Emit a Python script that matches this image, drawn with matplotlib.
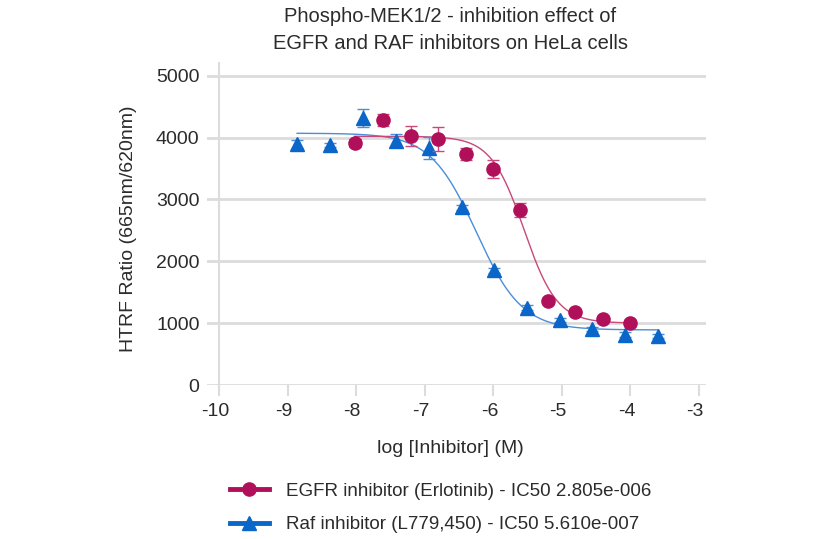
import numpy as np
import matplotlib
matplotlib.use("Agg")
import matplotlib.pyplot as plt
import matplotlib.transforms as mtransforms
from matplotlib.lines import Line2D

plt.rcParams['font.family'] = ['Liberation Sans', 'DejaVu Sans']
plt.rcParams['axes.unicode_minus'] = False

# EGFR inhibitor (Erlotinib)
egfr_logc = [-8.02, -7.61, -7.20, -6.81, -6.40, -6.00, -5.61, -5.20, -4.81, -4.40, -4.01]
egfr_resp = [3915, 4285, 4025, 3975, 3730, 3492, 2829, 1362, 1184, 1070, 1000]
egfr_err = [60, 97, 167, 190, 100, 150, 110, 40, 40, 40, 40]

# Raf inhibitor (L779,450)
raf_logc = [-8.86, -8.38, -7.90, -7.42, -6.94, -6.46, -5.99, -5.51, -5.03, -4.56, -4.08, -3.60]
raf_resp = [3896, 3880, 4316, 3950, 3831, 2870, 1852, 1252, 1051, 905, 810, 792]
raf_err = [60, 40, 140, 100, 175, 40, 40, 40, 40, 40, 40, 40]

# fitted 4PL parameters (top, bottom, logIC50, hill)
egfr_fit = (4020, 1000, np.log10(2.805e-6), 1.8)
raf_fit = (4070, 890, np.log10(5.610e-7), 1.3)

egfr_label = "EGFR inhibitor (Erlotinib) - IC50 2.805e-006"
raf_label = "Raf inhibitor (L779,450) - IC50 5.610e-007"

red = '#B0105A'
blue = '#0A66C8'
red_line = '#C8487A'
blue_line = '#4A8ED6'
txt = '#2b2b2b'


def four_pl(x, top, bottom, logic50, hill):
    return bottom + (top - bottom) / (1 + 10 ** ((x - logic50) * hill))


fig = plt.figure(figsize=(8.2, 5.39), dpi=100)
ax = fig.add_axes([0.2524, 0.2857, 0.6085, 0.5974])

ax.set_xlim(-10.175, -2.9)
ax.set_ylim(0, 5205)

# fitted curves
xs = np.linspace(raf_logc[0], raf_logc[-1], 300)
ax.plot(xs, four_pl(xs, *raf_fit), color=blue_line, lw=1, zorder=2)
xs = np.linspace(egfr_logc[0], egfr_logc[-1], 300)
ax.plot(xs, four_pl(xs, *egfr_fit), color=red_line, lw=1, zorder=2)

ax.errorbar(raf_logc, raf_resp, yerr=raf_err, fmt='^', color=blue, ms=10,
            ecolor=blue_line, elinewidth=1, capsize=4.5, capthick=1, zorder=3)
ax.errorbar(egfr_logc, egfr_resp, yerr=egfr_err, fmt='o', color=red, ms=9.5,
            ecolor=red_line, elinewidth=1, capsize=4.5, capthick=1, zorder=4)

ax.set_yticks([0, 1000, 2000, 3000, 4000, 5000])
ax.set_xticks(range(-10, -2))
ax.yaxis.grid(True, color='#dcdcdc', lw=2)
ax.set_axisbelow(True)
for s in ['top', 'right', 'bottom']:
    ax.spines[s].set_visible(False)
ax.spines['left'].set_position(('data', -10))
ax.spines['left'].set_color('#dcdcdc')
ax.spines['left'].set_linewidth(1.5)
ax.tick_params(axis='y', length=0, pad=14, labelsize=14, labelcolor=txt)
ax.tick_params(axis='x', length=8, width=1.5, color='#dcdcdc', pad=5,
               labelsize=14, labelcolor=txt)

# x tick labels sit a little left of their ticks in the original
shift = mtransforms.ScaledTranslation(-4 / 100, 0, fig.dpi_scale_trans)
for lab in ax.get_xticklabels():
    lab.set_transform(lab.get_transform() + shift)

ax.set_xlabel("log [Inhibitor] (M)", fontsize=14, color=txt)
ax.xaxis.set_label_coords(0.487, -0.17)
ax.set_ylabel("HTRF Ratio (665nm/620nm)", fontsize=14, color=txt)
ax.yaxis.set_label_coords(-0.14, 0.485)

fig.text(0.549, 0.987, "Phospho-MEK1/2 - inhibition effect of\nEGFR and RAF inhibitors on HeLa cells",
         ha='center', va='top', fontsize=14.5, color=txt, linespacing=1.5)

handles = [Line2D([], [], color=red, lw=3.5, marker='o', ms=9.5),
           Line2D([], [], color=blue, lw=3.5, marker='^', ms=10)]
fig.legend(handles, [egfr_label, raf_label], loc='upper left',
           bbox_to_anchor=(0.271, 0.118), frameon=False, fontsize=13.5,
           handlelength=2.1, handletextpad=0.9, labelspacing=0.85,
           labelcolor=txt, borderaxespad=0)

fig.savefig("out.png", dpi=100)
